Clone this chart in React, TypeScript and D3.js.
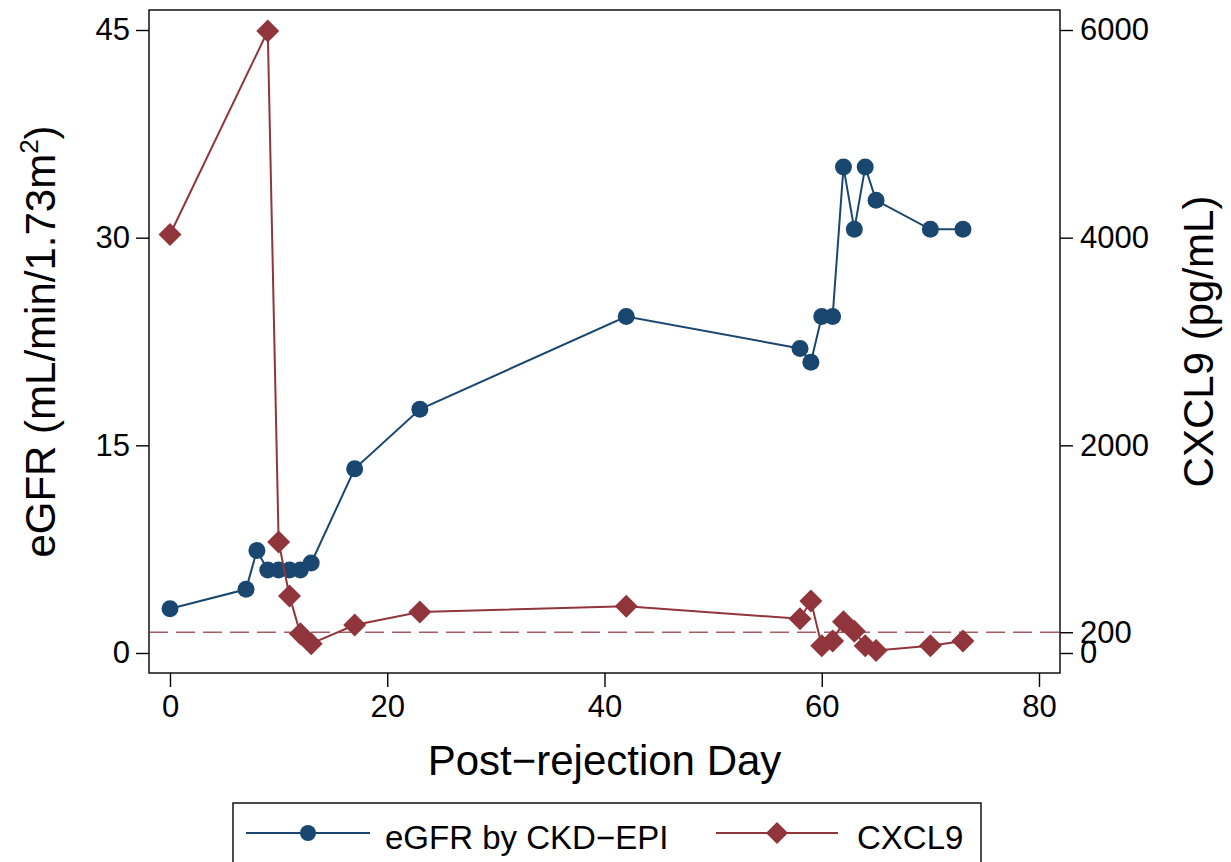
import React, { useRef, useEffect } from 'react';
import * as d3 from 'd3';

// eGFR series (post-rejection day, mL/min/1.73m2)
const egfrDays = [0, 7, 8, 9, 10, 11, 12, 13, 17, 23, 42, 58, 59, 60, 61, 62, 63, 64, 65, 70, 73];
const egfrValues = [3.2, 4.6, 7.4, 6.0, 6.0, 6.0, 6.0, 6.5, 13.3, 17.6, 24.3, 22.0, 21.0, 24.3, 24.3, 35.1, 30.6, 35.1, 32.7, 30.6, 30.6];

// CXCL9 series (post-rejection day, pg/mL)
const cxclDays = [0, 9, 10, 11, 12, 13, 17, 23, 42, 58, 59, 60, 61, 62, 63, 64, 65, 70, 73];
const cxclValues = [4030, 5990, 1070, 550, 185, 90, 270, 395, 450, 330, 500, 70, 115, 300, 210, 70, 25, 70, 115];

const xTicks = [0, 20, 40, 60, 80];
const leftTicks = [0, 15, 30, 45];
const rightTicks = [0, 200, 2000, 4000, 6000];
const cxclThreshold = 200;

const NAVY = '#1a476f';
const MAROON = '#90353b';
const FONT = '"Liberation Sans", Arial, Helvetica, sans-serif';

export default function App() {
  const svgRef = useRef<SVGSVGElement>(null);

  useEffect(() => {
    const svg = d3.select(svgRef.current);
    svg.selectAll('*').remove();

    const frame = { left: 149, right: 1060, top: 10, bottom: 673 };

    const x = d3.scaleLinear().domain([0, 80]).range([170, 1039]);
    const yLeft = d3.scaleLinear().domain([0, 45]).range([653, 30]);
    const yRight = d3.scaleLinear().domain([0, 6000]).range([653, 30]);

    // plot frame
    svg.append('rect')
      .attr('x', frame.left).attr('y', frame.top)
      .attr('width', frame.right - frame.left).attr('height', frame.bottom - frame.top)
      .attr('fill', 'none').attr('stroke', '#000').attr('stroke-width', 1.4);

    // left axis
    const gl = svg.append('g').attr('transform', `translate(${frame.left},0)`);
    gl.call(d3.axisLeft(yLeft).tickValues(leftTicks).tickSize(13).tickPadding(6).tickFormat(d3.format('d')) as any);
    gl.select('.domain').remove();

    // right axis
    const gr = svg.append('g').attr('transform', `translate(${frame.right},0)`);
    gr.call(d3.axisRight(yRight).tickValues(rightTicks).tickSize(13).tickPadding(7).tickFormat(d3.format('d')) as any);
    gr.select('.domain').remove();

    // bottom axis
    const gb = svg.append('g').attr('transform', `translate(0,${frame.bottom})`);
    gb.call(d3.axisBottom(x).tickValues(xTicks).tickSize(14).tickPadding(8).tickFormat(d3.format('d')) as any);
    gb.select('.domain').remove();

    svg.selectAll('.tick text')
      .style('font-family', FONT).style('font-size', '31px').attr('fill', '#000');
    svg.selectAll('.tick line').attr('stroke', '#000').attr('stroke-width', 1.4);

    // axis titles
    const yTitle = svg.append('text')
      .attr('transform', `translate(55,${(30 + 653) / 2}) rotate(-90)`)
      .attr('text-anchor', 'middle')
      .style('font-family', FONT).style('font-size', '42px');
    yTitle.append('tspan').text('eGFR (mL/min/1.73m');
    yTitle.append('tspan').attr('dy', -17).style('font-size', '26px').text('2');
    yTitle.append('tspan').attr('dy', 17).text(')');

    svg.append('text')
      .attr('transform', `translate(1213,${(30 + 653) / 2}) rotate(-90)`)
      .attr('text-anchor', 'middle')
      .style('font-family', FONT).style('font-size', '42px')
      .text('CXCL9 (pg/mL)');

    svg.append('text')
      .attr('x', (frame.left + frame.right) / 2).attr('y', 775)
      .attr('text-anchor', 'middle')
      .style('font-family', FONT).style('font-size', '42px')
      .text('Post\u2212rejection Day');

    // threshold line
    svg.append('line')
      .attr('x1', frame.left).attr('x2', frame.right)
      .attr('y1', yRight(cxclThreshold)).attr('y2', yRight(cxclThreshold))
      .attr('stroke', MAROON).attr('stroke-opacity', 0.8).attr('stroke-width', 1.7)
      .attr('stroke-dasharray', '19,8');

    const diamond = (s: number) => `M0,${-s}L${s},0L0,${s}L${-s},0Z`;

    // eGFR line
    const egfr = egfrDays.map((d, i) => ({ d, v: egfrValues[i] }));
    svg.append('path')
      .datum(egfr)
      .attr('d', d3.line<any>().x(p => x(p.d)).y(p => yLeft(p.v)))
      .attr('fill', 'none').attr('stroke', NAVY).attr('stroke-width', 2);
    svg.selectAll('.egfr-dot').data(egfr).enter().append('circle')
      .attr('cx', p => x(p.d)).attr('cy', p => yLeft(p.v)).attr('r', 8.5)
      .attr('fill', NAVY);

    // CXCL9 line
    const cxcl = cxclDays.map((d, i) => ({ d, v: cxclValues[i] }));
    svg.append('path')
      .datum(cxcl)
      .attr('d', d3.line<any>().x(p => x(p.d)).y(p => yRight(p.v)))
      .attr('fill', 'none').attr('stroke', MAROON).attr('stroke-width', 2);
    svg.selectAll('.cxcl-dot').data(cxcl).enter().append('path')
      .attr('transform', p => `translate(${x(p.d)},${yRight(p.v)})`)
      .attr('d', diamond(11.5))
      .attr('fill', MAROON);

    // legend
    const lg = svg.append('g');
    lg.append('rect')
      .attr('x', 233).attr('y', 803).attr('width', 748).attr('height', 70)
      .attr('fill', '#fff').attr('stroke', '#000').attr('stroke-width', 1.4);
    const ly = 833;
    lg.append('line').attr('x1', 246).attr('x2', 370).attr('y1', ly).attr('y2', ly)
      .attr('stroke', NAVY).attr('stroke-width', 2);
    lg.append('circle').attr('cx', 308).attr('cy', ly).attr('r', 8).attr('fill', NAVY);
    lg.append('text').attr('x', 385).attr('y', 849)
      .style('font-family', FONT).style('font-size', '33px')
      .text('eGFR by CKD\u2212EPI');
    lg.append('line').attr('x1', 716).attr('x2', 838).attr('y1', ly).attr('y2', ly)
      .attr('stroke', MAROON).attr('stroke-width', 2);
    lg.append('path').attr('transform', `translate(777,${ly})`).attr('d', diamond(11)).attr('fill', MAROON);
    lg.append('text').attr('x', 857).attr('y', 849)
      .style('font-family', FONT).style('font-size', '33px')
      .text('CXCL9');
  }, []);

  return (
    <div style={{ position: 'absolute', left: 0, top: 0 }}>
      <svg ref={svgRef} width={1231} height={862} style={{ display: 'block', background: '#fff' }}></svg>
    </div>
  );
}
